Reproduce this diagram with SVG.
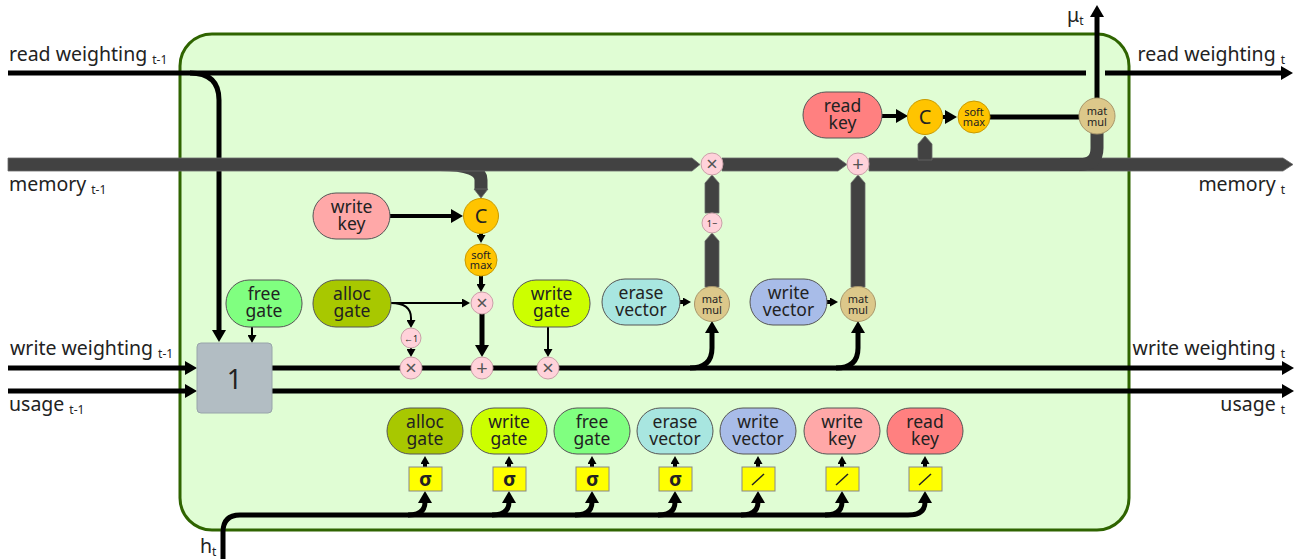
<svg xmlns="http://www.w3.org/2000/svg" width="1304" height="559" viewBox="0 0 1304 559">
<style>
text{font-family:"Noto Sans","Open Sans",sans-serif;fill:#222}
.lbl{font-size:19.5px}
.sub{font-size:12px}
.pt{font-size:17.5px;text-anchor:middle}
.ct{text-anchor:middle}
.sm{font-size:11px;text-anchor:middle}
.sym{font-size:20px;fill:#555;text-anchor:middle}
.pill{stroke:#555;stroke-width:1}
.k{stroke:#000;fill:none;stroke-width:5}
.k4{stroke:#000;fill:none;stroke-width:4}
.k2{stroke:#000;fill:none;stroke-width:2}
.band{fill:#424242;stroke:#6a6a6a;stroke-width:0.8}
.bs{stroke:#424242;fill:none;stroke-width:13}
.op{fill:#ffd2da;stroke:#c9a0a8;stroke-width:1}
.or{fill:#ffc400;stroke:#c99a00;stroke-width:1}
.mm{fill:#dcc88a;stroke:#a8966a;stroke-width:1}
.yb{fill:#ffff00;stroke:#888;stroke-width:1}
.sl{stroke:#222;stroke-width:1.5}
</style>
<defs>
<marker id="ab" markerUnits="userSpaceOnUse" markerWidth="12" markerHeight="14" viewBox="0 0 12 14" refX="1" refY="7" orient="auto"><path d="M0,0 L12,7 L0,14 Z" fill="#000"/></marker>
<marker id="as" markerUnits="userSpaceOnUse" markerWidth="8" markerHeight="9" viewBox="0 0 8 9" refX="1" refY="4.5" orient="auto"><path d="M0,0 L8,4.5 L0,9 Z" fill="#000"/></marker>
</defs>

<rect id="frame" x="180" y="34" width="949" height="496" rx="32" fill="#e0fdd4" stroke="#2f6400" stroke-width="3"/>

<g id="labels">
<text class="lbl" x="9" y="61">read weighting<tspan class="sub" dx="5" dy="3">t-1</tspan></text>
<text class="lbl" x="1285" y="61" text-anchor="end">read weighting<tspan class="sub" dx="5" dy="3">t</tspan></text>
<text class="lbl" x="1067" y="22">μ<tspan class="sub" dy="3">t</tspan></text>
<text class="lbl" x="9" y="191">memory<tspan class="sub" dx="5" dy="3">t-1</tspan></text>
<text class="lbl" x="1285" y="191" text-anchor="end">memory<tspan class="sub" dx="5" dy="3">t</tspan></text>
<text class="lbl" x="10" y="355">write weighting<tspan class="sub" dx="5" dy="3">t-1</tspan></text>
<text class="lbl" x="9" y="411">usage<tspan class="sub" dx="5" dy="3">t-1</tspan></text>
<text class="lbl" x="1285" y="355" text-anchor="end">write weighting<tspan class="sub" dx="5" dy="3">t</tspan></text>
<text class="lbl" x="1285" y="411" text-anchor="end">usage<tspan class="sub" dx="5" dy="3">t</tspan></text>
<text class="lbl" x="200" y="553">h<tspan class="sub" dy="3">t</tspan></text>
</g>

<g id="connectors">
<path class="k" d="M8,73 H1086"/>
<path class="k" d="M1105,73 H1282" marker-end="url(#ab)"/>
<path class="k" d="M190,73 Q219,73 219,100 V331" marker-end="url(#ab)"/>
<path class="bs" d="M440,164.5 Q481,164.5 481,180 V190"/>
<polygon class="band" points="474,189 488,189 481,198"/>
<path class="band" d="M8,158 H692 L700,164.5 L692,171 H8 Z"/>
<path class="band" d="M722,158 H838 L847,164.5 L838,171 H722 Z"/>
<path class="band" d="M869,158 H1283 L1293,164.5 L1283,171 H869 Z"/>
<path class="band" d="M918,160 V144 L925,136 L932,144 V160 Z"/>
<path class="bs" d="M1060,164.5 H1080 Q1097,164.5 1097,148 V133"/>
<path class="band" d="M705,287 V241 L712,233 L719,241 V287 Z"/>
<path class="band" d="M705,213 V183 L712,175 L719,183 V213 Z"/>
<path class="band" d="M851,287 V183 L858,175 L865,183 V287 Z"/>
<path class="k" d="M1097,98 V16" marker-end="url(#ab)"/>
<path class="k4" d="M882,116 H897" marker-end="url(#ab)"/>
<path class="k4" d="M943,117 H946" marker-end="url(#ab)"/>
<path class="k" d="M988,117 H1079"/>
<path class="k4" d="M390,216 H452" marker-end="url(#ab)"/>
<path class="k4" d="M481,233 V236" marker-end="url(#as)"/>
<path class="k4" d="M481,276 V285" marker-end="url(#as)"/>
<path class="k2" d="M391,303 H463" marker-end="url(#as)"/>
<path class="k2" d="M391,303 Q411,303 411,318 V321" marker-end="url(#as)"/>
<path class="k2" d="M411,348 V350" marker-end="url(#as)"/>
<path class="k" d="M482,314 V346" marker-end="url(#ab)"/>
<path class="k2" d="M548,327 V350" marker-end="url(#as)"/>
<path class="k2" d="M252,327 V336" marker-end="url(#as)"/>
<path class="k" d="M8,368 H186" marker-end="url(#ab)"/>
<path class="k" d="M8,391 H186" marker-end="url(#ab)"/>
<path class="k" d="M272,368 H1283" marker-end="url(#ab)"/>
<path class="k" d="M272,391 H1283" marker-end="url(#ab)"/>
<path class="k4" d="M680,302 H684" marker-end="url(#as)"/>
<path class="k4" d="M827,302 H831" marker-end="url(#as)"/>
<path class="k" d="M690,368 Q712,368 712,348 V332" marker-end="url(#ab)"/>
<path class="k" d="M836,368 Q858,368 858,348 V332" marker-end="url(#ab)"/>
<path class="k" d="M223,559 V532 Q223,515 240,515 H908 Q925,515 925,502" marker-end="url(#ab)"/>
<path class="k" d="M408,515 Q425,515 425,502" marker-end="url(#ab)"/>
<path class="k" d="M492,515 Q509,515 509,502" marker-end="url(#ab)"/>
<path class="k" d="M575,515 Q592,515 592,502" marker-end="url(#ab)"/>
<path class="k" d="M658,515 Q675,515 675,502" marker-end="url(#ab)"/>
<path class="k" d="M741,515 Q758,515 758,502" marker-end="url(#ab)"/>
<path class="k" d="M825,515 Q842,515 842,502" marker-end="url(#ab)"/>
<path class="k4" d="M425,467 V463" marker-end="url(#as)"/>
<path class="k4" d="M509,467 V463" marker-end="url(#as)"/>
<path class="k4" d="M592,467 V463" marker-end="url(#as)"/>
<path class="k4" d="M675,467 V463" marker-end="url(#as)"/>
<path class="k4" d="M758,467 V463" marker-end="url(#as)"/>
<path class="k4" d="M842,467 V463" marker-end="url(#as)"/>
<path class="k4" d="M925,467 V463" marker-end="url(#as)"/>
</g>

<g id="box1"><rect x="197" y="343" width="75" height="70" rx="4" fill="#b2bdc3" stroke="#98a4aa"/><text class="ct" x="234.5" y="389" font-size="27">1</text></g>

<g id="read-key-top"><rect class="pill" x="803" y="92" width="79" height="46" rx="23" fill="#ff8080"/><text class="pt"><tspan x="842.5" y="112">read</tspan><tspan x="842.5" dy="17">key</tspan></text></g>
<g id="read-C"><circle class="or" cx="925" cy="117" r="17.5"/><text class="ct" x="925" y="124" font-size="20">C</text></g>
<g id="read-softmax"><circle class="or" cx="974" cy="117" r="16"/><text class="sm"><tspan x="974" y="116">soft</tspan><tspan x="974" dy="10">max</tspan></text></g>
<g id="read-matmul"><circle class="mm" cx="1097" cy="116" r="18"/><text class="sm"><tspan x="1097" y="115">mat</tspan><tspan x="1097" dy="11">mul</tspan></text></g>

<g id="erase-mult"><circle class="op" cx="712" cy="164" r="11"/><text class="sym" x="712" y="171">×</text></g>
<g id="write-add"><circle class="op" cx="858" cy="164" r="11"/><text class="sym" x="858" y="171">+</text></g>
<g id="one-minus"><circle class="op" cx="712" cy="223" r="10"/><text class="ct" x="712" y="226.5" font-size="9" fill="#555">1−</text></g>

<g id="write-key-top"><rect class="pill" x="313" y="193" width="77" height="46" rx="23" fill="#ffa8a8"/><text class="pt"><tspan x="351.5" y="213">write</tspan><tspan x="351.5" dy="17">key</tspan></text></g>
<g id="write-C"><circle class="or" cx="481" cy="216" r="17.5"/><text class="ct" x="481" y="223" font-size="20">C</text></g>
<g id="write-softmax"><circle class="or" cx="481" cy="260" r="16"/><text class="sm"><tspan x="481" y="259">soft</tspan><tspan x="481" dy="10">max</tspan></text></g>
<g id="alloc-mult"><circle class="op" cx="482" cy="303" r="11"/><text class="sym" x="482" y="310">×</text></g>

<g id="free-gate-top"><rect class="pill" x="226" y="280" width="76" height="47" rx="23" fill="#80ff80"/><text class="pt"><tspan x="264" y="300">free</tspan><tspan x="264" dy="17">gate</tspan></text></g>
<g id="alloc-gate-top"><rect class="pill" x="313" y="280" width="78" height="47" rx="23" fill="#a8c800"/><text class="pt"><tspan x="352" y="300">alloc</tspan><tspan x="352" dy="17">gate</tspan></text></g>
<g id="write-gate-top"><rect class="pill" x="513" y="280" width="77" height="47" rx="23" fill="#ccff00"/><text class="pt"><tspan x="551.5" y="300">write</tspan><tspan x="551.5" dy="17">gate</tspan></text></g>
<g id="erase-vector-top"><rect class="pill" x="602" y="279" width="78" height="46" rx="23" fill="#a8e6e0"/><text class="pt"><tspan x="641" y="299">erase</tspan><tspan x="641" dy="17">vector</tspan></text></g>
<g id="write-vector-top"><rect class="pill" x="750" y="279" width="77" height="46" rx="23" fill="#a8bce8"/><text class="pt"><tspan x="788.5" y="299">write</tspan><tspan x="788.5" dy="17">vector</tspan></text></g>
<g id="erase-matmul"><circle class="mm" cx="712" cy="304" r="17.5"/><text class="sm"><tspan x="712" y="303">mat</tspan><tspan x="712" dy="11">mul</tspan></text></g>
<g id="write-matmul"><circle class="mm" cx="858" cy="304" r="17.5"/><text class="sm"><tspan x="858" y="303">mat</tspan><tspan x="858" dy="11">mul</tspan></text></g>

<g id="inv"><circle class="op" cx="411" cy="338" r="10"/><text class="ct" x="411" y="341.5" font-size="9" fill="#555">←1</text></g>
<g id="ww-mult1"><circle class="op" cx="411" cy="368" r="11"/><text class="sym" x="411" y="375">×</text></g>
<g id="ww-add"><circle class="op" cx="482" cy="368" r="11"/><text class="sym" x="482" y="375">+</text></g>
<g id="ww-mult2"><circle class="op" cx="548" cy="368" r="11"/><text class="sym" x="548" y="375">×</text></g>

<g id="out-alloc"><rect class="pill" x="387" y="408" width="76" height="46" rx="23" fill="#a8c800"/><text class="pt"><tspan x="425" y="428">alloc</tspan><tspan x="425" dy="17">gate</tspan></text><rect class="yb" x="409" y="467" width="33" height="24"/><text class="ct" x="425.5" y="486" font-size="20" font-weight="bold">σ</text></g>
<g id="out-write-gate"><rect class="pill" x="471" y="408" width="76" height="46" rx="23" fill="#ccff00"/><text class="pt"><tspan x="509" y="428">write</tspan><tspan x="509" dy="17">gate</tspan></text><rect class="yb" x="493" y="467" width="33" height="24"/><text class="ct" x="509.5" y="486" font-size="20" font-weight="bold">σ</text></g>
<g id="out-free-gate"><rect class="pill" x="554" y="408" width="76" height="46" rx="23" fill="#80ff80"/><text class="pt"><tspan x="592" y="428">free</tspan><tspan x="592" dy="17">gate</tspan></text><rect class="yb" x="576" y="467" width="33" height="24"/><text class="ct" x="592.5" y="486" font-size="20" font-weight="bold">σ</text></g>
<g id="out-erase"><rect class="pill" x="637" y="408" width="76" height="46" rx="23" fill="#a8e6e0"/><text class="pt"><tspan x="675" y="428">erase</tspan><tspan x="675" dy="17">vector</tspan></text><rect class="yb" x="659" y="467" width="33" height="24"/><text class="ct" x="675.5" y="486" font-size="20" font-weight="bold">σ</text></g>
<g id="out-write-vector"><rect class="pill" x="720" y="408" width="76" height="46" rx="23" fill="#a8bce8"/><text class="pt"><tspan x="758" y="428">write</tspan><tspan x="758" dy="17">vector</tspan></text><rect class="yb" x="742" y="467" width="33" height="24"/><line class="sl" x1="752" y1="485" x2="764" y2="474"/></g>
<g id="out-write-key"><rect class="pill" x="804" y="408" width="76" height="46" rx="23" fill="#ffa8a8"/><text class="pt"><tspan x="842" y="428">write</tspan><tspan x="842" dy="17">key</tspan></text><rect class="yb" x="826" y="467" width="33" height="24"/><line class="sl" x1="836" y1="485" x2="848" y2="474"/></g>
<g id="out-read-key"><rect class="pill" x="887" y="408" width="76" height="46" rx="23" fill="#ff8080"/><text class="pt"><tspan x="925" y="428">read</tspan><tspan x="925" dy="17">key</tspan></text><rect class="yb" x="909" y="467" width="33" height="24"/><line class="sl" x1="919" y1="485" x2="931" y2="474"/></g>
</svg>
